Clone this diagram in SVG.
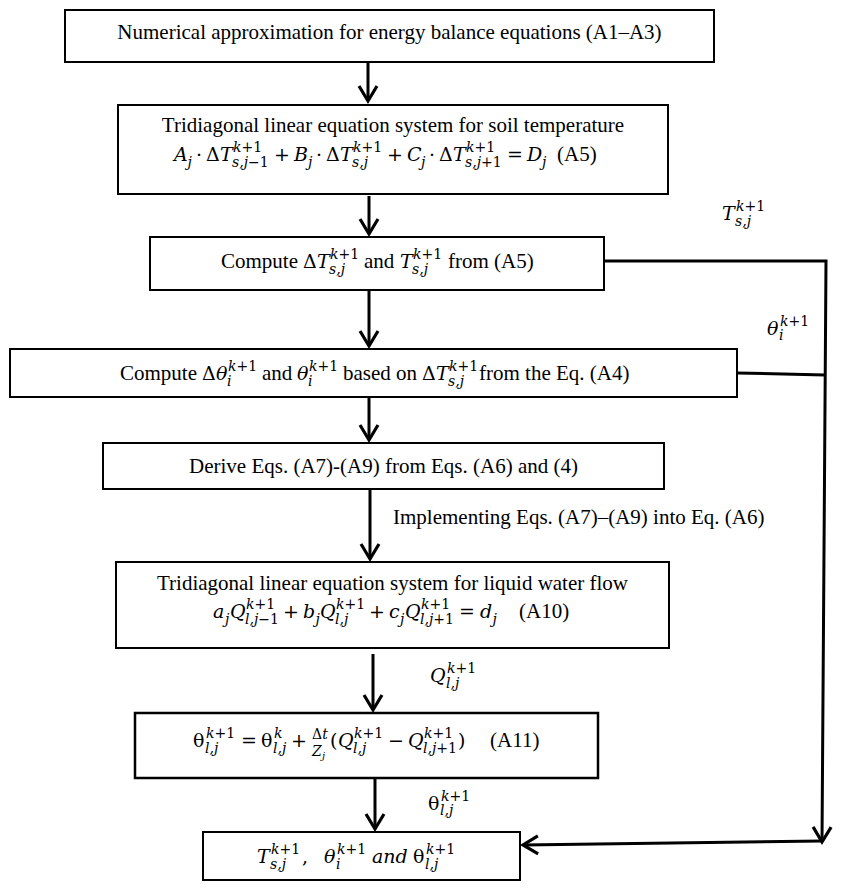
<svg xmlns="http://www.w3.org/2000/svg" width="842" height="891" viewBox="0 0 842 891">
<style>
.bx{fill:#fff;stroke:#000;stroke-width:2}
.t{font-family:"Liberation Serif","Times New Roman",serif;font-size:21px;fill:#000}
.m{font-family:"DejaVu Serif",serif;font-size:19px}
.i{font-style:italic}
.s{font-size:14px}
.fr{font-size:14px}
.ss{font-size:10px}
.cn{fill:none;stroke:#000;stroke-width:3}
</style>
<defs>
<marker id="ah" markerUnits="userSpaceOnUse" markerWidth="30" markerHeight="30" viewBox="-20 -15 24 30" refX="0" refY="0" orient="auto" overflow="visible">
<path d="M-15,-9 L0,0 L-15,9" fill="none" stroke="#000" stroke-width="3.2"/>
</marker>
</defs>
<rect width="842" height="891" fill="#fff"/>

<g id="connectors">
<path class="cn" d="M368,63 L368,101" marker-end="url(#ah)"/>
<path class="cn" d="M369,196 L369,234" marker-end="url(#ah)"/>
<path class="cn" d="M369,291 L369,346" marker-end="url(#ah)"/>
<path class="cn" d="M369,398 L369,440" marker-end="url(#ah)"/>
<path class="cn" d="M370,490 L370,559" marker-end="url(#ah)"/>
<path class="cn" d="M373,654 L373,710" marker-end="url(#ah)"/>
<path class="cn" d="M375,779 L375,829" marker-end="url(#ah)"/>
<path class="cn" d="M604,261 L826,261 L822,842" marker-end="url(#ah)"/>
<path class="cn" d="M737,373 L825,375"/>
<path class="cn" d="M822,841 L523,845" marker-end="url(#ah)"/>
</g>

<g id="labels">
<text class="t m"><tspan class="i" x="722" y="220">T</tspan><tspan class="s" x="736" y="211"><tspan class="i">k</tspan>+1</tspan><tspan class="s i" x="735" y="226">s,j</tspan></text>
<text class="t m"><tspan class="i" x="767" y="335">θ</tspan><tspan class="s" x="780" y="326"><tspan class="i">k</tspan>+1</tspan><tspan class="s i" x="779" y="340">i</tspan></text>
<text class="t" x="393" y="524">Implementing Eqs. (A7)–(A9) into Eq. (A6)</text>
<text class="t m"><tspan class="i" x="430" y="682">Q</tspan><tspan class="s" x="447" y="673"><tspan class="i">k</tspan>+1</tspan><tspan class="s i" x="446" y="688">l,j</tspan></text>
<text class="t m"><tspan x="428" y="810">θ</tspan><tspan class="s" x="441" y="801"><tspan class="i">k</tspan>+1</tspan><tspan class="s i" x="440" y="815">l,j</tspan></text>
</g>

<g id="n1">
<rect class="bx" x="65" y="10" width="649" height="52"/>
<text class="t" x="389.5" y="39" text-anchor="middle">Numerical approximation for energy balance equations (A1–A3)</text>
</g>

<g id="n2">
<rect class="bx" x="118" y="105" width="550" height="89"/>
<text class="t" x="393" y="132" text-anchor="middle">Tridiagonal linear equation system for soil temperature</text>
<text class="t m"><tspan class="i" x="174" y="161">A</tspan><tspan class="s i" x="187.5" y="167">j</tspan><tspan x="196" y="161">·</tspan><tspan x="206" y="161">Δ</tspan><tspan class="i" x="220" y="161">T</tspan><tspan class="s" x="233" y="152"><tspan class="i">k</tspan>+1</tspan><tspan class="s" x="232" y="167"><tspan class="i">s,j</tspan>−1</tspan><tspan x="274" y="161">+</tspan><tspan class="i" x="294" y="161">B</tspan><tspan class="s i" x="308" y="167">j</tspan><tspan x="316" y="161">·</tspan><tspan x="326" y="161">Δ</tspan><tspan class="i" x="340" y="161">T</tspan><tspan class="s" x="353" y="152"><tspan class="i">k</tspan>+1</tspan><tspan class="s i" x="352" y="167">s,j</tspan><tspan x="387" y="161">+</tspan><tspan class="i" x="407" y="161">C</tspan><tspan class="s i" x="421" y="167">j</tspan><tspan x="429" y="161">·</tspan><tspan x="439" y="161">Δ</tspan><tspan class="i" x="453" y="161">T</tspan><tspan class="s" x="466" y="152"><tspan class="i">k</tspan>+1</tspan><tspan class="s" x="465" y="167"><tspan class="i">s,j</tspan>+1</tspan><tspan x="507" y="161">=</tspan><tspan class="i" x="527" y="161">D</tspan><tspan class="s i" x="542" y="167">j</tspan></text>
<text class="t" x="557" y="161">(A5)</text>
</g>

<g id="n3">
<rect class="bx" x="150" y="237" width="454" height="53"/>
<text class="t"><tspan x="221" y="268">Compute</tspan><tspan class="m" x="303" y="268">Δ</tspan><tspan class="m i" x="317" y="268">T</tspan><tspan class="m s" x="330" y="259"><tspan class="i">k</tspan>+1</tspan><tspan class="m s i" x="329" y="274">s,j</tspan><tspan x="364" y="268">and</tspan><tspan class="m i" x="400" y="268">T</tspan><tspan class="m s" x="413" y="259"><tspan class="i">k</tspan>+1</tspan><tspan class="m s i" x="412" y="274">s,j</tspan><tspan x="448" y="268">from (A5)</tspan></text>
</g>

<g id="n4">
<rect class="bx" x="10" y="349" width="727" height="48"/>
<text class="t"><tspan x="120" y="380">Compute</tspan><tspan class="m" x="202" y="380">Δ</tspan><tspan class="m i" x="216" y="380">θ</tspan><tspan class="m s" x="228" y="371"><tspan class="i">k</tspan>+1</tspan><tspan class="m s i" x="227" y="386">i</tspan><tspan x="262" y="380">and</tspan><tspan class="m i" x="297" y="380">θ</tspan><tspan class="m s" x="309" y="371"><tspan class="i">k</tspan>+1</tspan><tspan class="m s i" x="308" y="386">i</tspan><tspan x="343" y="380">based on</tspan><tspan class="m" x="422" y="380">Δ</tspan><tspan class="m i" x="436" y="380">T</tspan><tspan class="m s" x="449" y="371"><tspan class="i">k</tspan>+1</tspan><tspan class="m s i" x="448" y="386">s,j</tspan><tspan x="479" y="380">from the Eq. (A4)</tspan></text>
</g>

<g id="n5">
<rect class="bx" x="103" y="443" width="561" height="46"/>
<text class="t" x="383.5" y="473" text-anchor="middle">Derive Eqs. (A7)-(A9) from Eqs. (A6) and (4)</text>
</g>

<g id="n6">
<rect class="bx" x="116" y="562" width="553" height="86"/>
<text class="t" x="392.5" y="590" text-anchor="middle">Tridiagonal linear equation system for liquid water flow</text>
<text class="t m"><tspan class="i" x="213" y="618">a</tspan><tspan class="s i" x="225" y="624">j</tspan><tspan class="i" x="230" y="618">Q</tspan><tspan class="s" x="246" y="609"><tspan class="i">k</tspan>+1</tspan><tspan class="s" x="245" y="624"><tspan class="i">l,j</tspan>−1</tspan><tspan x="283" y="618">+</tspan><tspan class="i" x="303" y="618">b</tspan><tspan class="s i" x="315.5" y="624">j</tspan><tspan class="i" x="320" y="618">Q</tspan><tspan class="s" x="336" y="609"><tspan class="i">k</tspan>+1</tspan><tspan class="s i" x="335" y="624">l,j</tspan><tspan x="369" y="618">+</tspan><tspan class="i" x="389" y="618">c</tspan><tspan class="s i" x="400" y="624">j</tspan><tspan class="i" x="405" y="618">Q</tspan><tspan class="s" x="421" y="609"><tspan class="i">k</tspan>+1</tspan><tspan class="s" x="420" y="624"><tspan class="i">l,j</tspan>+1</tspan><tspan x="459" y="618">=</tspan><tspan class="i" x="480" y="618">d</tspan><tspan class="s i" x="492.5" y="624">j</tspan></text>
<text class="t" x="519" y="618">(A10)</text>
</g>

<g id="n7">
<rect class="bx" x="135" y="713" width="463" height="65" style="stroke-width:2.5"/>
<text class="t m"><tspan x="193" y="747">θ</tspan><tspan class="s" x="206" y="738"><tspan class="i">k</tspan>+1</tspan><tspan class="s i" x="205" y="753">l,j</tspan><tspan x="241" y="747">=</tspan><tspan x="261" y="747">θ</tspan><tspan class="s i" x="274" y="738">k</tspan><tspan class="s i" x="273" y="753">l,j</tspan><tspan x="291" y="747">+</tspan><tspan class="fr" x="312" y="739">Δ<tspan class="i">t</tspan></tspan><tspan class="fr i" x="312" y="756">Z</tspan><tspan class="ss i" x="322" y="759">j</tspan><tspan x="330" y="747">(</tspan><tspan class="i" x="338" y="747">Q</tspan><tspan class="s" x="354" y="738"><tspan class="i">k</tspan>+1</tspan><tspan class="s i" x="353" y="753">l,j</tspan><tspan x="388" y="747">−</tspan><tspan class="i" x="408" y="747">Q</tspan><tspan class="s" x="424" y="738"><tspan class="i">k</tspan>+1</tspan><tspan class="s" x="423" y="753"><tspan class="i">l,j</tspan>+1</tspan><tspan x="458" y="747">)</tspan></text>
<text class="t" x="490" y="747">(A11)</text>
</g>

<g id="n8">
<rect class="bx" x="203" y="832" width="317" height="48"/>
<text class="t m"><tspan class="i" x="257" y="863">T</tspan><tspan class="s" x="271" y="854"><tspan class="i">k</tspan>+1</tspan><tspan class="s i" x="270" y="869">s,j</tspan><tspan x="302" y="863">,</tspan><tspan class="i" x="324" y="863">θ</tspan><tspan class="s" x="337" y="854"><tspan class="i">k</tspan>+1</tspan><tspan class="s i" x="336" y="869">i</tspan><tspan class="i" x="372" y="863">and</tspan><tspan x="413" y="863">θ</tspan><tspan class="s" x="426" y="854"><tspan class="i">k</tspan>+1</tspan><tspan class="s i" x="425" y="869">l,j</tspan></text>
</g>
</svg>
